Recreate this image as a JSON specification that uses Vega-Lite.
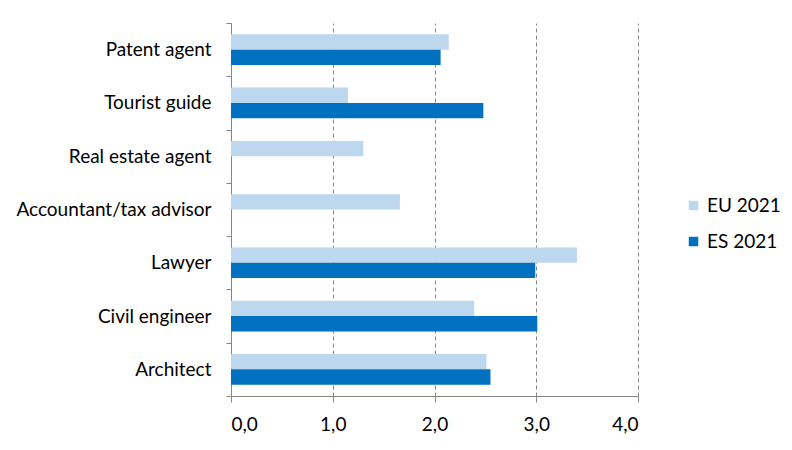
{
  "$schema": "https://vega.github.io/schema/vega-lite/v6.json",
  "width": 407,
  "height": 373,
  "autosize": {"type": "none"},
  "padding": {"left": 231, "top": 23, "right": 154, "bottom": 54},
  "background": "white",
  "data": {
    "values": [
      {"occupation": "Patent agent", "series": "EU 2021", "value": 2.14},
      {"occupation": "Patent agent", "series": "ES 2021", "value": 2.06},
      {"occupation": "Tourist guide", "series": "EU 2021", "value": 1.15},
      {"occupation": "Tourist guide", "series": "ES 2021", "value": 2.48},
      {"occupation": "Real estate agent", "series": "EU 2021", "value": 1.30},
      {"occupation": "Accountant/tax advisor", "series": "EU 2021", "value": 1.66},
      {"occupation": "Lawyer", "series": "EU 2021", "value": 3.40},
      {"occupation": "Lawyer", "series": "ES 2021", "value": 2.99},
      {"occupation": "Civil engineer", "series": "EU 2021", "value": 2.39},
      {"occupation": "Civil engineer", "series": "ES 2021", "value": 3.01},
      {"occupation": "Architect", "series": "EU 2021", "value": 2.51},
      {"occupation": "Architect", "series": "ES 2021", "value": 2.55}
    ]
  },
  "mark": {"type": "bar"},
  "encoding": {
    "y": {
      "field": "occupation",
      "type": "nominal",
      "sort": ["Patent agent", "Tourist guide", "Real estate agent", "Accountant/tax advisor", "Lawyer", "Civil engineer", "Architect"],
      "scale": {"paddingInner": 0, "paddingOuter": 0},
      "axis": {
        "title": null,
        "domainColor": "#868686",
        "tickColor": "#868686",
        "tickBand": "extent",
        "tickSize": 5,
        "labelPadding": 15,
        "labelLimit": 300,
        "labelFont": "Lato",
        "labelFontSize": 19,
        "labelColor": "#000000",
        "grid": false
      }
    },
    "yOffset": {
      "field": "series",
      "type": "nominal",
      "sort": ["EU 2021", "ES 2021"],
      "scale": {"paddingInner": 0, "paddingOuter": 0.74}
    },
    "x": {
      "field": "value",
      "type": "quantitative",
      "scale": {"domain": [0, 4], "nice": false},
      "axis": {
        "title": null,
        "values": [0, 1, 2, 3, 4],
        "labelExpr": "replace(format(datum.value, '.1f'), '.', ',')",
        "domainColor": "#868686",
        "tickColor": "#868686",
        "tickSize": 6,
        "labelPadding": 13,
        "labelFont": "Lato",
        "labelFontSize": 19,
        "labelColor": "#000000",
        "grid": true,
        "gridColor": "#868686",
        "gridDash": [4, 3],
        "gridWidth": 1
      }
    },
    "color": {
      "field": "series",
      "type": "nominal",
      "sort": ["EU 2021", "ES 2021"],
      "scale": {"domain": ["EU 2021", "ES 2021"], "range": ["#BDD7EE", "#0070C0"]},
      "legend": {
        "title": null,
        "orient": "none",
        "legendX": 453,
        "legendY": 173,
        "symbolType": "square",
        "symbolSize": 90,
        "symbolStrokeWidth": 0,
        "rowPadding": 16,
        "labelFont": "Lato",
        "labelFontSize": 19,
        "labelColor": "#000000",
        "labelOffset": 4
      }
    }
  },
  "config": {
    "view": {"stroke": null}
  }
}
